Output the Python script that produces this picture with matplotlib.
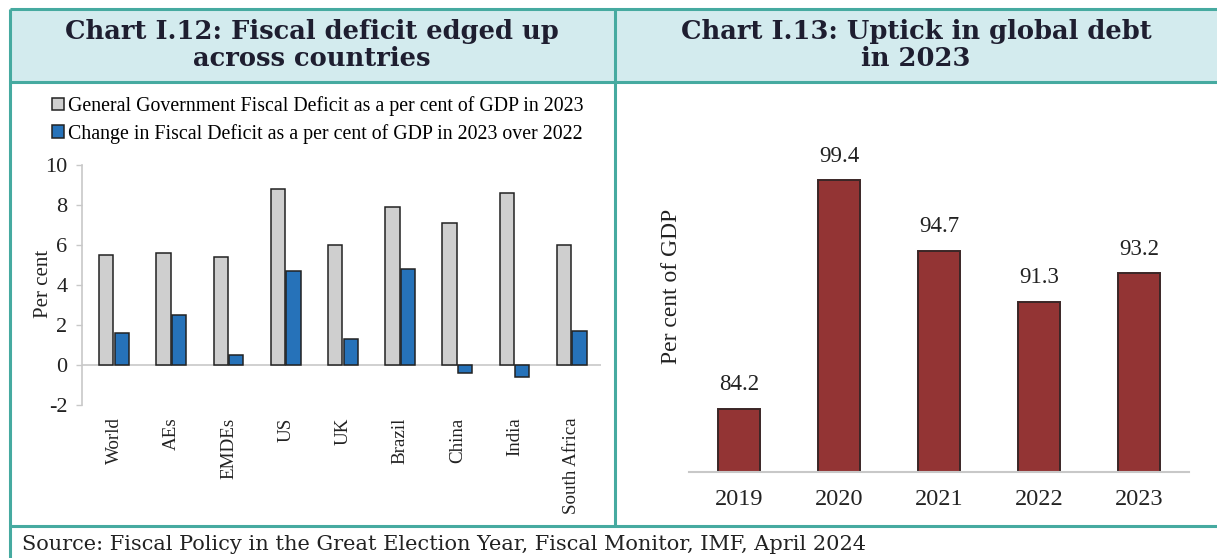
import matplotlib
matplotlib.use("Agg")
import matplotlib.pyplot as plt
from matplotlib.lines import Line2D
from matplotlib.patches import Rectangle
import numpy as np

# ==========================
# DATA
# ==========================
COUNTRIES = ["World", "AEs", "EMDEs", "US", "UK", "Brazil", "China", "India", "South Africa"]
DEFICIT_2023 = [5.5, 5.6, 5.4, 8.8, 6.0, 7.9, 7.1, 8.6, 6.0]
DEFICIT_CHANGE = [1.6, 2.5, 0.5, 4.7, 1.3, 4.8, -0.4, -0.6, 1.7]
LEFT_YTICKS = [-2, 0, 2, 4, 6, 8, 10]
LEGEND_LABELS = [
    "General Government Fiscal Deficit as a per cent of GDP in 2023",
    "Change in Fiscal Deficit as a per cent of GDP in 2023 over 2022",
]

YEARS = ["2019", "2020", "2021", "2022", "2023"]
GLOBAL_DEBT = [84.2, 99.4, 94.7, 91.3, 93.2]

TITLE_LEFT = "Chart I.12: Fiscal deficit edged up\nacross countries"
TITLE_RIGHT = "Chart I.13: Uptick in global debt\nin 2023"
SOURCE = "Source: Fiscal Policy in the Great Election Year, Fiscal Monitor, IMF, April 2024"

# ==========================
# STYLE
# ==========================
W, H = 1217, 558
TEAL = "#46AAA0"
BAND = "#D3EBEE"
GREY_BAR = "#CFCFCF"
BLUE_BAR = "#2672B9"
MAROON = "#933434"
AXIS_GREY = "#C8C8C8"
TEXT = "#222222"
TITLE_COLOR = "#1E1E30"
SERIF = ["Liberation Serif", "DejaVu Serif"]
HEAD = ["DejaVu Serif"]


def fx(x):
    return x / W


def fy(y):
    return 1 - y / H


def px_axes(fig, x0, y0, x1, y1):
    """Axes placed by pixel box (top-left origin)."""
    return fig.add_axes([fx(x0), fy(y1), (x1 - x0) / W, (y1 - y0) / H])


fig = plt.figure(figsize=(W / 100, H / 100), dpi=100)
fig.patch.set_facecolor("white")

# frame and title bands
fig.patches.append(Rectangle((fx(10), fy(82)), 1 - fx(10), (82 - 9) / H,
                             transform=fig.transFigure, facecolor=BAND, edgecolor="none", zorder=0))
frame_lines = [
    ([10, W], [9, 9]),
    ([10, W], [82, 82]),
    ([10, W], [526, 526]),
    ([10, 10], [9, H]),
    ([615, 615], [9, 526]),
]
for xs, ys in frame_lines:
    fig.lines.append(Line2D([fx(v) for v in xs], [fy(v) for v in ys], transform=fig.transFigure,
                            color=TEAL, linewidth=2.2, solid_capstyle="butt"))

fig.text(fx(312), fy(45), TITLE_LEFT, ha="center", va="center", fontsize=18.5, fontweight="bold",
         family=HEAD, color=TITLE_COLOR, linespacing=1.12)
fig.text(fx(916), fy(45), TITLE_RIGHT, ha="center", va="center", fontsize=18.5, fontweight="bold",
         family=HEAD, color=TITLE_COLOR, linespacing=1.12)
fig.text(fx(22), fy(545), SOURCE, ha="left", va="center", fontsize=15, family=HEAD, color=TEXT)

# ==========================
# LEFT CHART
# ==========================
ax1 = px_axes(fig, 82, 165, 601, 405)
x = np.arange(len(COUNTRIES))
b1 = ax1.bar(x - 0.135, DEFICIT_2023, 0.25, color=GREY_BAR, edgecolor="#222222", linewidth=1.1,
             label=LEGEND_LABELS[0], zorder=2)
b2 = ax1.bar(x + 0.135, DEFICIT_CHANGE, 0.25, color=BLUE_BAR, edgecolor="#222222", linewidth=1.1,
             label=LEGEND_LABELS[1], zorder=2)
ax1.axhline(0, color=AXIS_GREY, linewidth=1.2, zorder=1)
ax1.set_xlim(-0.56, 8.51)
ax1.set_ylim(-2, 10)
ax1.set_yticks(LEFT_YTICKS)
ax1.set_yticklabels([str(v) for v in LEFT_YTICKS], family=SERIF, fontsize=16, color=TEXT)
ax1.set_xticks(x)
ax1.set_xticklabels(COUNTRIES, rotation=90, family=SERIF, fontsize=13.7, color=TEXT)
ax1.tick_params(axis="x", length=0, pad=9)
ax1.tick_params(axis="y", length=4.5, width=1, color=AXIS_GREY, pad=6)
for side in ["top", "right", "bottom"]:
    ax1.spines[side].set_visible(False)
ax1.spines["left"].set_color(AXIS_GREY)
ax1.spines["left"].set_linewidth(1.2)
ax1.set_ylabel("Per cent", family=SERIF, fontsize=15, color=TEXT)
ax1.yaxis.set_label_coords((53 - 82) / (601 - 82), (405 - 284) / (405 - 165))

ax1.legend(handles=[b1, b2], labels=LEGEND_LABELS, loc="upper left",
           bbox_to_anchor=(fx(52), fy(96)), bbox_transform=fig.transFigure,
           frameon=False, prop={"family": SERIF, "size": 14.3},
           handlelength=0.6, handleheight=0.6, handletextpad=0.2,
           labelspacing=0.4, borderpad=0, borderaxespad=0)

# ==========================
# RIGHT CHART
# ==========================
ax2 = px_axes(fig, 689, 96, 1189, 472)
xr = np.arange(len(YEARS))
ax2.bar(xr, GLOBAL_DEBT, 0.42, color=MAROON, edgecolor="#3A2626", linewidth=1.4, zorder=2)
ax2.set_xlim(-0.5, 4.5)
ax2.set_ylim(80, 105)
for i, v in enumerate(GLOBAL_DEBT):
    ax2.text(i, v + 1.6, f"{v:.1f}", ha="center", va="center", family=SERIF, fontsize=16.5, color=TEXT)
ax2.set_xticks(xr)
ax2.set_xticklabels(YEARS, family=SERIF, fontsize=17.5, color=TEXT)
ax2.tick_params(axis="x", length=0, pad=12)
ax2.set_yticks([])
for side in ["top", "right", "left"]:
    ax2.spines[side].set_visible(False)
ax2.spines["bottom"].set_color(AXIS_GREY)
ax2.spines["bottom"].set_linewidth(1.5)
ax2.set_ylabel("Per cent of GDP", family=SERIF, fontsize=17, color=TEXT)
ax2.yaxis.set_label_coords((682 - 689) / (1189 - 689), (472 - 286) / (472 - 96))

fig.savefig("out.png", dpi=100)
